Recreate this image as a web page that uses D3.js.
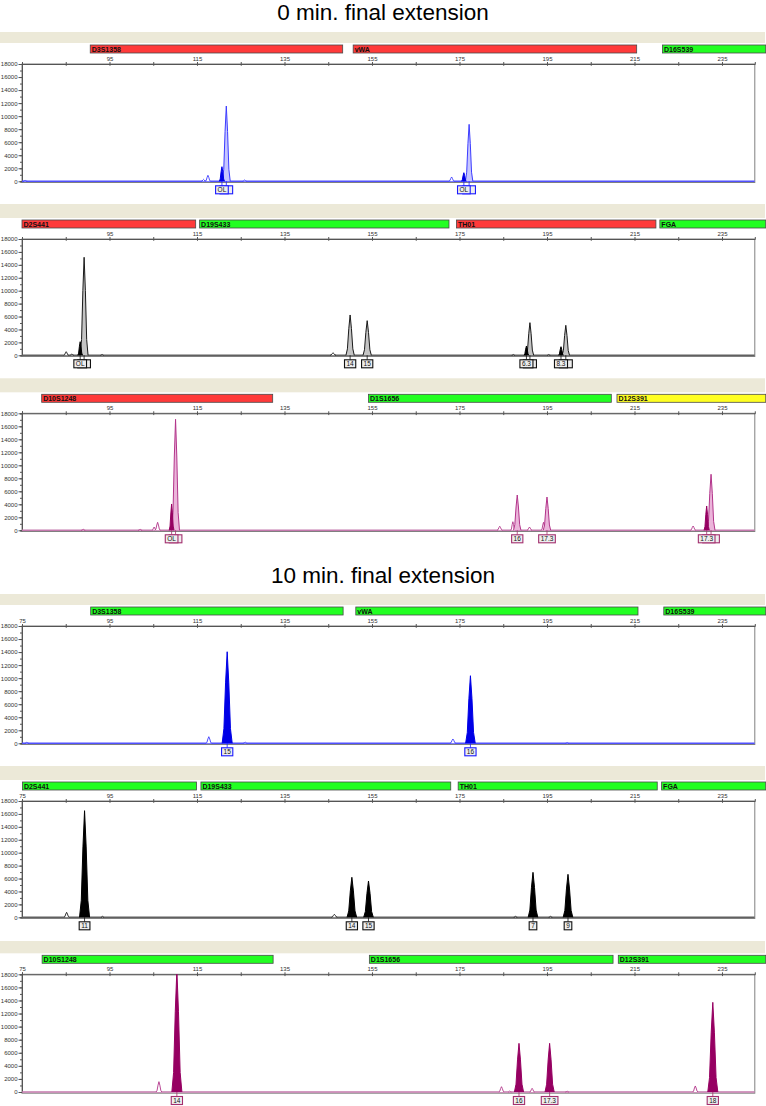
<!DOCTYPE html>
<html>
<head>
<meta charset="utf-8">
<script src="https://cdn.jsdelivr.net/npm/d3@7/dist/d3.min.js"></script>
<style>
  body { margin: 0; background: #fff; }
  svg { display: block; font-family: "Liberation Sans", Arial, sans-serif; }
</style>
</head>
<body>
<svg id="chart" width="766" height="1106"></svg>
<script>
// axis ticks (size in bp, intensity in RFU)
const xTicks = [75, 85, 95, 105, 115, 125, 135, 145, 155, 165, 175, 185, 195, 205, 215, 225, 235];
const xLabels = [75, 95, 115, 135, 155, 175, 195, 215, 235];
const yMinor = [0, 1000, 2000, 3000, 4000, 5000, 6000, 7000, 8000, 9000, 10000, 11000, 12000, 13000, 14000, 15000, 16000, 17000, 18000];
const yLabels = [0, 2000, 4000, 6000, 8000, 10000, 12000, 14000, 16000, 18000];
const titles = ["0 min. final extension", "10 min. final extension"];

// loci: [marker, start bp, end bp, status]
const lociBlue0 = [["D3S1358", 90.6, 148.3, "fail"], ["vWA", 150.7, 215.5, "fail"], ["D16S539", 221.4, 245, "pass"]];
const lociBlack0 = [["D2S441", 75, 114.7, "fail"], ["D19S433", 115.6, 172.6, "pass"], ["TH01", 174.3, 219.9, "fail"], ["FGA", 220.8, 245, "pass"]];
const lociPurple0 = [["D10S1248", 79.5, 132.3, "fail"], ["D1S1656", 154.2, 209.7, "pass"], ["D12S391", 211, 245, "check"]];
const lociBlue10 = [["D3S1358", 90.7, 148.4, "pass"], ["vWA", 151.3, 215.8, "pass"], ["D16S539", 221.7, 245, "pass"]];
const lociBlack10 = [["D2S441", 75.1, 114.9, "pass"], ["D19S433", 115.9, 173.0, "pass"], ["TH01", 174.7, 220.2, "pass"], ["FGA", 221.2, 245, "pass"]];
const lociPurple10 = [["D10S1248", 79.6, 132.4, "pass"], ["D1S1656", 154.4, 210.1, "pass"], ["D12S391", 211.3, 245, "pass"]];

// peaks: [size bp, height RFU, half width bp, kind]
const peaksBlue0 = [
  [75.7, 150, 0.5, "minor"], [116.5, 300, 0.5, "minor"], [117.5, 920, 0.6, "minor"],
  [121.7, 11550, 0.9, "main"], [120.7, 2240, 0.6, "shoulder"], [125.9, 200, 0.45, "minor"],
  [173.2, 660, 0.6, "minor"], [177.2, 8740, 0.85, "main"], [176.0, 1320, 0.55, "shoulder"]
];
const peaksBlack0 = [
  [85.1, 560, 0.55, "minor"], [86.4, 200, 0.45, "minor"], [89.2, 15170, 0.9, "main"],
  [88.3, 2100, 0.55, "shoulder"], [93.3, 150, 0.35, "minor"], [146.1, 400, 0.65, "minor"],
  [150.0, 6240, 0.95, "main"], [153.9, 5360, 0.95, "main"], [187.3, 120, 0.35, "minor"],
  [191.1, 5050, 0.85, "main"], [190.3, 1440, 0.55, "shoulder"], [195.4, 120, 0.35, "minor"],
  [199.3, 4640, 0.85, "main"], [198.2, 1330, 0.55, "shoulder"]
];
const peaksPurple0 = [
  [89.0, 150, 0.45, "minor"], [102.0, 150, 0.45, "minor"], [105.2, 500, 0.45, "minor"],
  [106.0, 1230, 0.6, "minor"], [110.1, 17080, 0.9, "main"], [109.2, 4050, 0.55, "shoulder"],
  [184.2, 620, 0.6, "minor"], [187.2, 1320, 0.5, "minor"], [188.2, 5430, 0.85, "main"],
  [191.0, 500, 0.55, "minor"], [194.2, 1230, 0.5, "minor"], [195.0, 5120, 0.85, "main"],
  [228.4, 660, 0.6, "minor"], [232.5, 8620, 0.9, "main"], [231.5, 3740, 0.6, "shoulder"]
];
const peaksBlue10 = [
  [76.1, 150, 0.45, "minor"], [117.7, 1010, 0.65, "minor"], [121.9, 14050, 1.15, "main"],
  [126.0, 180, 0.45, "minor"], [173.5, 660, 0.65, "minor"], [177.5, 10370, 1.1, "main"],
  [199.6, 120, 0.35, "minor"]
];
const peaksBlack10 = [
  [85.2, 770, 0.6, "minor"], [89.3, 16500, 1.15, "main"], [93.4, 150, 0.35, "minor"],
  [146.4, 460, 0.65, "minor"], [150.4, 6190, 1.1, "main"], [154.2, 5620, 1.1, "main"],
  [187.8, 150, 0.4, "minor"], [191.8, 6960, 1.1, "main"], [195.8, 150, 0.4, "minor"],
  [199.8, 6650, 1.1, "main"]
];
const peaksPurple10 = [
  [106.3, 1580, 0.65, "minor"], [110.4, 18600, 1.15, "main"], [184.6, 810, 0.6, "minor"],
  [186.5, 150, 0.35, "minor"], [188.6, 7440, 1.05, "main"], [191.6, 560, 0.55, "minor"],
  [195.6, 7440, 1.05, "main"], [199.6, 120, 0.4, "minor"], [228.9, 920, 0.6, "minor"],
  [232.9, 13710, 1.15, "main"]
];

// allele calls: [size bp, label]
const callsBlue0 = [[121.7, "OL"], [120.7, "OL"], [177.2, "OL"], [176.0, "OL"]];
const callsBlack0 = [[89.2, "OL"], [88.3, "OL"], [150.0, "14"], [153.9, "15"], [191.1, "6.3"], [190.3, "6.3"], [199.3, "8.3"], [198.2, "8.3"]];
const callsPurple0 = [[110.1, "OL"], [109.2, "OL"], [188.2, "16"], [195.0, "17.3"], [232.5, "17.3"], [231.5, "17.3"]];
const callsBlue10 = [[121.9, "15"], [177.5, "16"]];
const callsBlack10 = [[89.3, "11"], [150.4, "14"], [154.2, "15"], [191.8, "7"], [199.8, "9"]];
const callsPurple10 = [[110.4, "14"], [188.6, "16"], [195.6, "17.3"], [232.9, "18"]];

// styles
const dyes = {
  blue:   { line: "#3c3cff", solid: "#0000e6", light: "#c6c6ff", base: "#5050ff", box: "#1a1aff" },
  black:  { line: "#1a1a1a", solid: "#000000", light: "#c4c4c4", base: "#606060", box: "#111111" },
  purple: { line: "#b2348a", solid: "#960062", light: "#ebb4da", base: "#c478ad", box: "#a3306f" }
};
const statusColor = { fail: "#ff3a3a", pass: "#22ff22", check: "#ffff22" };
const peakShape = [[-1, 0], [-0.65, 0.16], [-0.32, 0.66], [0, 1], [0.32, 0.66], [0.65, 0.16], [1, 0]];

const panels = [
  { dye: "blue",   stage: 0,  loci: lociBlue0,    peaks: peaksBlue0,    calls: callsBlue0,    top: 64,    h: 117.3, band: 32 },
  { dye: "black",  stage: 0,  loci: lociBlack0,   peaks: peaksBlack0,   calls: callsBlack0,   top: 239,   h: 116.3, band: 204 },
  { dye: "purple", stage: 0,  loci: lociPurple0,  peaks: peaksPurple0,  calls: callsPurple0,  top: 413.3, h: 117,   band: 378.3 },
  { dye: "blue",   stage: 10, loci: lociBlue10,   peaks: peaksBlue10,   calls: callsBlue10,   top: 626,   h: 117.3, band: 594 },
  { dye: "black",  stage: 10, loci: lociBlack10,  peaks: peaksBlack10,  calls: callsBlack10,  top: 801,   h: 116.3, band: 766 },
  { dye: "purple", stage: 10, loci: lociPurple10, peaks: peaksPurple10, calls: callsPurple10, top: 974.3, h: 117.7, band: 941 }
];

const svg = d3.select("#chart");
const x = d3.scaleLinear().domain([75, 242.5]).range([22, 754.8]);

svg.append("text").attr("x", 383).attr("y", 20).attr("text-anchor", "middle")
  .attr("font-size", 22.5).attr("fill", "#000").text(titles[0]);
svg.append("text").attr("x", 383).attr("y", 583).attr("text-anchor", "middle")
  .attr("font-size", 22.5).attr("fill", "#000").text(titles[1]);

panels.forEach((p, i) => {
  const c = dyes[p.dye];
  const y = d3.scaleLinear().domain([0, 18000]).range([p.top + p.h, p.top]);
  const g = svg.append("g");

  // header band
  g.append("rect").attr("x", 0).attr("y", p.band).attr("width", 765)
    .attr("height", p.top - 21 - p.band).attr("fill", "#ece9d8");

  // locus bars
  const loc = g.selectAll(".locus").data(p.loci).enter().append("g");
  loc.append("rect")
    .attr("x", d => x(d[1])).attr("y", p.top - 19)
    .attr("width", d => x(d[2]) - x(d[1])).attr("height", 8)
    .attr("fill", d => statusColor[d[3]]).attr("stroke", "#4a4a4a").attr("stroke-width", 0.8);
  loc.append("text")
    .attr("x", d => x(d[1]) + 1.5).attr("y", p.top - 12.3)
    .attr("font-size", 7).attr("font-weight", "bold").attr("fill", "#111")
    .text(d => d[0]);

  // plot box
  g.append("rect").attr("x", x(75)).attr("y", p.top)
    .attr("width", x(242.5) - x(75)).attr("height", p.h + 1.2)
    .attr("fill", "#fff").attr("stroke", "#808080").attr("stroke-width", 1);

  // top size axis
  const showFirst = p.stage === 10;
  const topAxis = g.append("g").attr("transform", `translate(0,${p.top})`)
    .call(d3.axisTop(x).tickValues(xTicks).tickSize(2).tickPadding(1.5)
      .tickFormat(d => (xLabels.includes(d) && (d !== 75 || showFirst)) ? d : ""));
  topAxis.select(".domain").attr("stroke", "#555");
  topAxis.selectAll(".tick line").attr("y1", 1.8).attr("stroke", "#555");
  topAxis.selectAll(".tick text").attr("font-size", 6).attr("fill", "#333")
    .attr("font-family", "Liberation Sans, Arial, sans-serif");

  // left intensity axis
  const minor = g.append("g").attr("transform", `translate(${x(75)},0)`)
    .call(d3.axisLeft(y).tickValues(yMinor).tickSize(2).tickFormat(""));
  minor.select(".domain").attr("stroke", "#555");
  minor.selectAll(".tick line").attr("stroke", "#555");
  const major = g.append("g").attr("transform", `translate(${x(75)},0)`)
    .call(d3.axisLeft(y).tickValues(yLabels).tickSize(3.5).tickPadding(1).tickFormat(d3.format("d")));
  major.select(".domain").remove();
  major.selectAll(".tick line").attr("stroke", "#555");
  major.selectAll(".tick text").attr("font-size", 6).attr("fill", "#333")
    .attr("font-family", "Liberation Sans, Arial, sans-serif");

  // trace
  const clipId = "clip" + i;
  svg.append("clipPath").attr("id", clipId).append("rect")
    .attr("x", x(75)).attr("y", p.top).attr("width", x(242.5) - x(75)).attr("height", p.h + 1);
  const tr = g.append("g").attr("clip-path", `url(#${clipId})`);

  tr.append("line").attr("x1", x(75)).attr("x2", x(242.5))
    .attr("y1", y(0)).attr("y2", y(0)).attr("stroke", c.base).attr("stroke-width", 1.4);

  const line = d3.line().x(d => x(d[0])).y(d => y(d[1]));
  const order = { minor: 0, main: 1, shoulder: 2 };
  const sorted = p.peaks.slice().sort((a, b) => order[a[3]] - order[b[3]]);
  tr.selectAll(".peak").data(sorted).enter().append("path")
    .attr("d", d => line(peakShape.map(s => [d[0] + s[0] * d[2], s[1] * d[1]])))
    .attr("fill", d => d[3] === "minor" ? "#fff"
      : d[3] === "shoulder" ? c.solid
      : p.stage === 10 ? c.solid : c.light)
    .attr("stroke", d => (d[3] === "shoulder" || (d[3] === "main" && p.stage === 10)) ? c.solid : c.line)
    .attr("stroke-width", d => d[3] === "minor" ? 0.9 : 1)
    .attr("stroke-linejoin", "round");

  // allele call labels; a box covered by the next one keeps only its edge
  const calls = g.selectAll(".call").data(p.calls).enter().append("g");
  calls.append("line")
    .attr("x1", d => x(d[0])).attr("x2", d => x(d[0]))
    .attr("y1", y(0)).attr("y2", y(0) + 4.5).attr("stroke", c.box).attr("stroke-width", 0.8);
  calls.each(function (d, k) {
    const grp = d3.select(this);
    const next = p.calls[k + 1];
    const covered = next && Math.abs(next[0] - d[0]) < 1.5;
    const rect = grp.append("rect");
    const t = grp.append("text")
      .attr("x", x(d[0])).attr("y", y(0) + 11)
      .attr("text-anchor", "middle").attr("font-size", 6.5).attr("fill", "#111")
      .text(d[1]);
    const w = t.node().getComputedTextLength() + 4;
    rect.attr("x", x(d[0]) - w / 2).attr("y", y(0) + 4.5)
      .attr("width", w).attr("height", 8)
      .attr("fill", "#eeeeee").attr("stroke", c.box).attr("stroke-width", 1.1);
    if (covered) t.remove();
  });
});
</script>
</body>
</html>
